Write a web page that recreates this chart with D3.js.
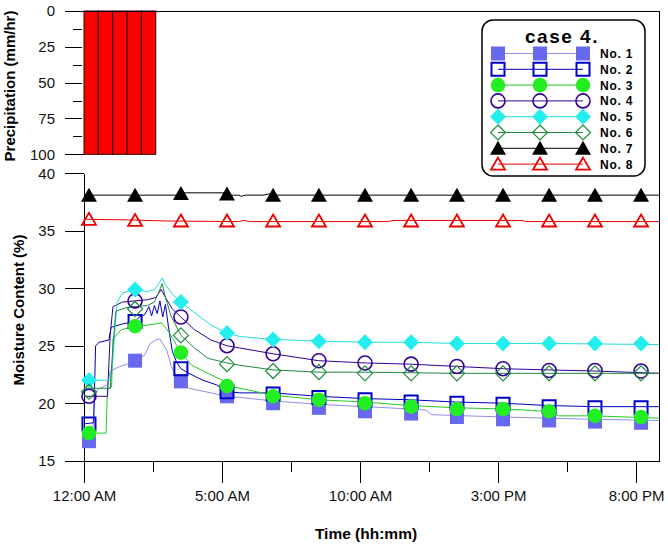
<!DOCTYPE html>
<html>
<head>
<meta charset="utf-8">
<script src="https://cdn.jsdelivr.net/npm/d3@7"></script>
<style>
  html, body { margin: 0; padding: 0; background: #fff; }
  svg { display: block; }
  text { font-family: Arial, "Liberation Sans", sans-serif; }
</style>
</head>
<body>
<svg id="chart" width="668" height="545"></svg>
<script>
// ---------------- DATA ----------------
const seriesNames = ["No. 1", "No. 2", "No. 3", "No. 4", "No. 5", "No. 6", "No. 7", "No. 8"];
const legendTitle = "case 4.";

// Precipitation bars (start hour, intensity mm/hr)
const rainStartHr = [0.0, 0.52, 1.04, 1.56, 2.08];
const rainDurHr = 0.52;
const rainValues = [100, 100, 100, 100, 100];

// x ticks (hours since midnight) and labels
const timeTickHr = [0, 5, 10, 15, 20];
const timeTickLabels = ["12:00 AM", "5:00 AM", "10:00 AM", "3:00 PM", "8:00 PM"];
const timeMinorHr = [2.5, 7.5, 12.5, 17.5];
const precipTicks = [0, 25, 50, 75, 100];
const precipMinor = [12.5, 37.5, 62.5, 87.5];
const moistTicks = [15, 20, 25, 30, 35, 40];

// Marker times (hours)
const markerHr = [0.18, 1.85, 3.51, 5.18, 6.85, 8.51, 10.18, 11.85, 13.51, 15.18, 16.85, 18.51, 20.18];

// Continuous lines [hour, moisture %]
const line1 = [[0,16.7],[0.3,16.8],[0.38,20.5],[0.5,21.2],[0.85,21.6],[0.95,22.8],[1.3,23.2],[1.85,23.6],[2.2,24.2],[2.4,25.2],[2.6,25.5],[2.75,25.6],[2.85,25.2],[3.0,24.6],[3.15,23.3],[3.35,22.2],[3.8,21.3],[4.4,21.0],[5.18,20.6],[5.65,20.5],[6.85,20.2],[8.5,19.9],[10.2,19.7],[11.8,19.5],[12.4,19.4],[12.6,19.0],[15.2,18.8],[16.8,18.7],[18.5,18.6],[20.83,18.5]];
const line2 = [[0,18.2],[0.35,18.3],[0.42,25.0],[0.55,25.3],[0.9,25.5],[0.98,26.6],[1.4,26.9],[1.85,27.1],[2.0,27.5],[2.2,27.7],[2.35,28.4],[2.45,27.6],[2.55,28.5],[2.65,27.8],[2.75,28.9],[2.85,27.5],[2.95,28.6],[3.05,26.8],[3.2,24.5],[3.35,23.6],[3.51,23.0],[3.8,22.6],[4.3,22.0],[4.8,21.6],[5.18,21.0],[5.65,20.9],[6.85,20.9],[8.5,20.6],[10.2,20.4],[11.8,20.3],[13.5,20.1],[15.2,20.0],[16.8,19.8],[18.5,19.7],[20.83,19.7]];
const line3 = [[0,17.4],[0.8,17.4],[0.85,21.2],[1.0,21.4],[1.05,25.6],[1.35,26.4],[1.85,26.7],[2.3,26.8],[2.6,26.9],[2.8,27.0],[2.95,26.6],[3.1,26.1],[3.51,24.4],[3.9,23.3],[4.5,22.6],[5.0,22.0],[5.18,21.5],[5.65,21.3],[6.85,20.7],[8.5,20.3],[10.2,20.1],[11.8,19.8],[13.5,19.6],[15.2,19.5],[16.8,19.3],[17.2,18.9],[18.5,18.9],[20.83,18.7]];
const line4 = [[0,20.6],[0.85,20.6],[0.95,26.0],[1.05,28.4],[1.4,28.8],[1.85,28.9],[2.3,29.0],[2.6,29.2],[2.8,29.9],[2.95,29.2],[3.2,28.2],[3.51,27.5],[4.0,26.4],[4.6,25.5],[5.18,25.0],[5.65,24.8],[6.85,24.3],[8.5,23.7],[10.2,23.5],[11.8,23.4],[13.5,23.2],[15.2,23.0],[16.8,22.9],[18.5,22.8],[20.83,22.6]];
const line5 = [[0,22.0],[0.95,22.0],[1.05,24.0],[1.2,28.8],[1.4,29.6],[1.85,29.9],[2.3,29.7],[2.55,29.9],[2.7,30.4],[2.83,30.9],[2.95,30.3],[3.2,29.5],[3.51,28.8],[4.1,27.7],[4.6,26.8],[5.18,26.1],[5.65,25.8],[6.85,25.55],[8.5,25.4],[10.2,25.3],[11.8,25.3],[13.5,25.2],[16.8,25.2],[20.83,25.1]];
const line6 = [[0,21.3],[0.95,21.3],[1.05,25.0],[1.15,28.0],[1.5,28.3],[1.85,28.4],[2.3,28.5],[2.55,28.8],[2.7,29.6],[2.83,30.4],[2.95,29.2],[3.15,27.6],[3.51,25.9],[4.0,24.8],[4.5,23.9],[5.18,23.5],[5.65,23.3],[6.85,22.9],[8.5,22.7],[10.2,22.7],[13.5,22.6],[16.8,22.6],[20.83,22.6]];
const line7 = [[0,38.1],[3.45,38.1],[3.5,38.3],[5.2,38.3],[5.3,38.1],[5.6,38.1],[5.7,38.0],[5.85,38.1],[6.5,38.1],[6.7,38.2],[6.9,38.1],[20.83,38.1]];
const line8 = [[0,36.0],[1.5,35.95],[3.0,35.85],[5.6,35.8],[5.8,35.9],[6.0,35.8],[11.0,35.8],[11.2,35.9],[12.5,35.9],[15.9,35.9],[16.0,35.8],[20.83,35.8]];

// Marker values at markerHr
const mark1 = [16.7,23.7,21.9,20.6,20.0,19.6,19.3,19.1,18.8,18.6,18.5,18.4,18.3];
const mark2 = [18.2,27.1,23.0,21.0,20.8,20.5,20.3,20.1,20.0,19.9,19.7,19.6,19.6];
const mark3 = [17.4,26.7,24.4,21.5,20.6,20.3,20.0,19.7,19.5,19.5,19.3,18.9,18.8];
const mark4 = [20.6,28.9,27.5,25.0,24.3,23.7,23.5,23.4,23.2,23.0,22.85,22.85,22.8];
const mark5 = [22.0,29.9,28.8,26.1,25.55,25.4,25.3,25.3,25.2,25.2,25.2,25.2,25.2];
const mark6 = [21.0,28.2,25.9,23.4,22.8,22.7,22.6,22.6,22.6,22.6,22.6,22.6,22.6];
const mark7 = [38.1,38.1,38.25,38.2,38.1,38.1,38.1,38.1,38.1,38.1,38.1,38.1,38.1];
const mark8 = [36.0,35.9,35.85,35.85,35.85,35.85,35.85,35.85,35.85,35.85,35.85,35.85,35.85];

const lines = [line1, line2, line3, line4, line5, line6, line7, line8];
const marks = [mark1, mark2, mark3, mark4, mark5, mark6, mark7, mark8];

// ---------------- STYLE ----------------
const styles = [
  { shape: "square",   fill: "#6868EE", stroke: "none",    sw: 0,   line: "#9090EE" },
  { shape: "square",   fill: "none",    stroke: "#0000CC", sw: 2,   line: "#0000BB" },
  { shape: "circle",   fill: "#22EE22", stroke: "none",    sw: 0,   line: "#22CC22" },
  { shape: "circle",   fill: "none",    stroke: "#330099", sw: 1.6, line: "#330099" },
  { shape: "diamond",  fill: "#22EEEE", stroke: "none",    sw: 0,   line: "#22DDDD" },
  { shape: "diamond",  fill: "none",    stroke: "#1E8C3C", sw: 1.2, line: "#228844" },
  { shape: "triangle", fill: "#000000", stroke: "none",    sw: 0,   line: "#000000" },
  { shape: "triangle", fill: "none",    stroke: "#EE0000", sw: 1.8, line: "#EE0000" }
];

// ---------------- LAYOUT ----------------
const svg = d3.select("#chart");
const xL = 84, xR = 659;
const x = d3.scaleLinear().domain([0, 20.83]).range([xL, xR]);
const yP = d3.scaleLinear().domain([0, 100]).range([11, 154.3]);
const yM = d3.scaleLinear().domain([15, 40]).range([460.7, 173.3]);

const FONT = "Arial, 'Liberation Sans', sans-serif";

// ---- Top panel: precipitation bars ----
svg.append("g").selectAll("rect").data(rainStartHr).join("rect")
  .attr("x", d => x(d))
  .attr("y", yP(0))
  .attr("width", x(rainDurHr) - x(0))
  .attr("height", (d, i) => yP(rainValues[i]) - yP(0))
  .attr("fill", "#FF0000")
  .attr("stroke", "#300")
  .attr("stroke-width", 1);

// top panel axis (ticks only)
const gP = svg.append("g").attr("transform", "translate(82,0)");
gP.call(d3.axisLeft(yP).tickValues(precipTicks).tickSize(17).tickPadding(10).tickFormat(d3.format("d")));
gP.select(".domain").remove();
const gPm = svg.append("g").attr("transform", "translate(82,0)");
gPm.call(d3.axisLeft(yP).tickValues(precipMinor).tickSize(9).tickFormat(""));
gPm.select(".domain").remove();

// frame top & right
svg.append("line").attr("x1", 65).attr("x2", xR).attr("y1", yP(0)).attr("y2", yP(0)).attr("stroke", "#000");
svg.append("line").attr("x1", xR).attr("x2", xR).attr("y1", yP(0)).attr("y2", yM(15)).attr("stroke", "#000");
svg.append("line").attr("x1", 65).attr("x2", x(rainStartHr[0])).attr("y1", yP(100)).attr("y2", yP(100)).attr("stroke", "#000");

// ---- Bottom panel axes ----
const gM = svg.append("g").attr("transform", `translate(${xL},0)`);
gM.call(d3.axisLeft(yM).tickValues(moistTicks).tickSize(19).tickSizeOuter(0).tickPadding(10));

const gX = svg.append("g").attr("transform", `translate(0,${yM(15)})`);
gX.call(d3.axisBottom(x).tickValues(timeTickHr).tickSize(22).tickSizeOuter(0).tickPadding(8)
  .tickFormat((d, i) => timeTickLabels[i]));
const gXm = svg.append("g").attr("transform", `translate(0,${yM(15)})`);
gXm.call(d3.axisBottom(x).tickValues(timeMinorHr).tickSize(11).tickSizeOuter(0).tickFormat(""));
gXm.select(".domain").remove();

svg.selectAll(".tick text").attr("font-family", FONT).attr("font-size", 15).attr("fill", "#111");
svg.selectAll(".domain, .tick line").attr("stroke", "#000").attr("shape-rendering", "crispEdges");
svg.selectAll("line").attr("shape-rendering", "crispEdges");

// ---- Axis titles ----
svg.append("text")
  .attr("transform", "translate(15,86) rotate(-90)")
  .attr("text-anchor", "middle")
  .attr("font-family", FONT).attr("font-weight", "bold").attr("font-size", 15)
  .text("Precipitation (mm/hr)");
svg.append("text")
  .attr("transform", "translate(24,310) rotate(-90)")
  .attr("text-anchor", "middle")
  .attr("font-family", FONT).attr("font-weight", "bold").attr("font-size", 15)
  .text("Moisture Content (%)");
svg.append("text")
  .attr("x", 366).attr("y", 539)
  .attr("text-anchor", "middle")
  .attr("font-family", FONT).attr("font-weight", "bold").attr("font-size", 15.5)
  .text("Time (hh:mm)");

// ---- Marker drawing ----
function markerPath(shape) {
  if (shape === "square") return "M-7,-7H7V7H-7Z";
  if (shape === "circle") return d3.symbol(d3.symbolCircle, Math.PI * 7.3 * 7.3)();
  if (shape === "diamond") return "M0,-8L8,0L0,8L-8,0Z";
  if (shape === "triangle") return "M0,-7.5L8,6.5L-8,6.5Z";
}
function openPath(shape) {
  if (shape === "square") return "M-6.5,-6.5H6.5V6.5H-6.5Z";
  if (shape === "circle") return d3.symbol(d3.symbolCircle, Math.PI * 7 * 7)();
  if (shape === "diamond") return "M0,-7.5L7.5,0L0,7.5L-7.5,0Z";
  if (shape === "triangle") return "M0,-6.5L7,5.5L-7,5.5Z";
}
function drawMarker(g, st, cx, cy) {
  const p = st.fill === "none" ? openPath(st.shape) : markerPath(st.shape);
  g.append("path").attr("d", p)
    .attr("transform", `translate(${cx},${cy})`)
    .attr("fill", st.fill)
    .attr("stroke", st.stroke)
    .attr("stroke-width", st.sw);
}

const lineGen = d3.line().x(d => x(d[0])).y(d => yM(d[1]));
const gLines = svg.append("g");
lines.forEach((ln, i) => {
  gLines.append("path").attr("d", lineGen(ln))
    .attr("fill", "none").attr("stroke", styles[i].line).attr("stroke-width", 1);
});
const gMarks = svg.append("g");
marks.forEach((mk, i) => {
  mk.forEach((v, k) => drawMarker(gMarks, styles[i], x(markerHr[k]), yM(v)));
});

// ---- Legend ----
const lg = svg.append("g");
lg.append("rect").attr("x", 482).attr("y", 20).attr("width", 163).attr("height", 156)
  .attr("rx", 11).attr("ry", 11).attr("fill", "#fff").attr("stroke", "#000").attr("stroke-width", 1.5);
lg.append("text").attr("x", 562).attr("y", 43).attr("text-anchor", "middle")
  .attr("font-family", FONT).attr("font-weight", "bold").attr("font-size", 19)
  .attr("letter-spacing", 1.5)
  .text(legendTitle);
const legX = [498, 540, 583];
seriesNames.forEach((name, i) => {
  const yy = 53.5 + i * 15.8;
  lg.append("line").attr("x1", legX[0]).attr("x2", legX[2]).attr("y1", yy).attr("y2", yy)
    .attr("stroke", styles[i].line).attr("stroke-width", 1);
  legX.forEach(lx => drawMarker(lg, styles[i], lx, yy));
  lg.append("text").attr("x", 600).attr("y", yy + 4.5)
    .attr("font-family", FONT).attr("font-weight", "bold").attr("font-size", 12)
    .attr("letter-spacing", 0.8)
    .text(name);
});
</script>
</body>
</html>
